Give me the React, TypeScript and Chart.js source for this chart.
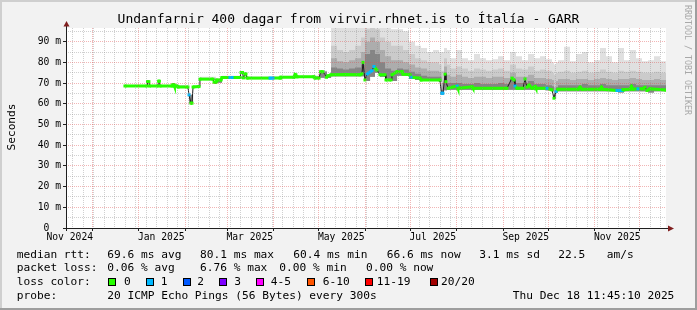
import React, { useEffect, useRef } from 'react';
import { Chart, registerables } from 'chart.js';

Chart.register(...registerables);

const W = 697;
const H = 310;

// ---- time axis (days since graph start) ----
const START_UTC = Date.UTC(2024, 10, 13, 11, 45, 10);
const DAY = 86400000;
const X_MIN = 0;
const X_MAX = 400;
const Y_MIN = 0;
const Y_MAX = 96.6;

const titleText = 'Undanfarnir 400 dagar from virvir.rhnet.is to Ítalía - GARR';
const yAxisTitle = 'Seconds';
const watermark = 'RRDTOOL / TOBI OETIKER';

const xLabelTexts = ['Nov 2024', 'Jan 2025', 'Mar 2025', 'May 2025', 'Jul 2025', 'Sep 2025', 'Nov 2025'];
const xLabelYears = [2024, 2025, 2025, 2025, 2025, 2025, 2025];
const xLabelMonths = [10, 0, 2, 4, 6, 8, 10];
const yTickValues = [0, 5, 10, 15, 20, 25, 30, 35, 40, 45, 50, 55, 60, 65, 70, 75, 80, 85, 90, 95];

// ---- median rtt (ms) ----
const medianDays = [
  39.3, 54.0, 54.3, 55.3, 55.7, 61.3, 61.7, 62.3, 62.7, 70.7,
  71.3, 72.0, 72.3, 74.0, 74.7, 81.3, 82.0, 83.3, 84.0, 84.7,
  88.7, 89.3, 98.0, 98.7, 100.0, 100.7, 103.3, 104.0, 109.3, 110.7,
  116.0, 116.7, 117.7, 118.3, 119.3, 120.0, 120.7, 136.0, 138.0, 142.7,
  143.3, 152.0, 152.7, 153.3, 154.0, 165.3, 166.0, 168.7, 169.7, 171.3,
  173.7, 174.7, 176.7, 186.0, 196.0, 197.3, 198.0, 199.3, 200.7, 204.0,
  205.3, 207.3, 209.3, 212.7, 213.3, 216.7, 217.3, 220.7, 224.0, 224.7,
  229.3, 230.0, 236.0, 236.7, 249.3, 250.3, 251.3, 252.7, 253.3, 254.7,
  260.7, 261.3, 270.7, 271.3, 294.0, 297.3, 298.7, 299.3, 300.7, 304.7,
  306.0, 307.3, 308.7, 310.7, 312.7, 313.3, 320.7, 324.0, 325.3, 326.7,
  328.0, 341.3, 342.7, 344.0, 356.0, 357.0, 358.0, 367.3, 370.7, 371.3,
  376.0, 377.0, 378.0, 381.3, 384.7, 386.0, 387.3, 389.3, 400.0,
];
const medianMs = [
  68.6, 68.6, 70.7, 70.7, 68.6, 68.6, 70.9, 70.9, 68.6, 68.6,
  69.2, 69.2, 68.6, 68.6, 68.1, 68.1, 64.3, 60.3, 60.3, 68.1,
  68.3, 71.9, 71.9, 70.4, 70.4, 71.5, 71.5, 72.7, 72.7, 72.7,
  72.7, 75.1, 75.1, 72.5, 74.4, 74.4, 72.4, 72.4, 72.4, 72.4,
  72.8, 72.8, 74.0, 74.0, 73.0, 73.0, 72.4, 72.4, 75.5, 75.5,
  72.8, 73.5, 74.0, 74.2, 74.0, 74.5, 80.0, 71.5, 74.4, 76.0,
  78.0, 76.3, 74.0, 74.0, 71.5, 71.5, 74.0, 75.5, 75.5, 74.3,
  74.0, 72.8, 72.4, 71.5, 71.5, 65.1, 65.1, 74.3, 70.7, 67.5,
  68.6, 67.5, 68.2, 67.5, 67.5, 72.4, 71.5, 68.6, 67.5, 67.5,
  72.0, 68.0, 69.0, 67.5, 68.3, 67.5, 67.5, 66.7, 62.7, 65.9,
  67.0, 67.0, 68.0, 67.0, 67.0, 68.0, 67.0, 66.4, 66.4, 66.8,
  67.0, 68.3, 67.0, 67.2, 67.2, 68.0, 66.4, 67.2, 66.6,
];
// lost pings out of 20 at each median point
const medianLoss = [
  0, 0, 0, 0, 0, 0, 0, 0, 0, 0,
  0, 0, 0, 0, 0, 0, 1, 0, 0, 0,
  0, 0, 0, 0, 0, 0, 0, 0, 1, 1,
  0, 0, 0, 0, 0, 0, 0, 1, 1, 0,
  0, 0, 0, 0, 0, 0, 0, 0, 0, 0,
  0, 0, 0, 0, 0, 0, 0, 0, 1, 1,
  1, 0, 0, 0, 0, 0, 0, 0, 0, 0,
  0, 1, 0, 0, 0, 1, 1, 0, 0, 0,
  1, 0, 0, 0, 0, 0, 0, 1, 0, 0,
  0, 0, 0, 0, 0, 0, 1, 0, 0, 1,
  0, 0, 0, 0, 0, 0, 0, 1, 1, 0,
  0, 0, 0, 1, 0, 0, 0, 0, 0,
];

// ---- smoke (ping spread, ms) ----
const smokeDays = [
  39.3, 79.3, 82.0, 84.7, 89.3, 100.0, 104.0, 121.3, 142.7, 156.0,
  169.3, 174.0, 176.7, 180.7, 184.7, 188.7, 192.7, 196.7, 199.3, 202.7,
  206.0, 209.3, 212.7, 216.7, 220.7, 224.7, 228.7, 232.7, 236.7, 240.7,
  244.7, 248.7, 250.3, 252.0, 254.0, 256, 260, 264, 268, 272,
  276, 280, 284, 288, 292, 296, 300, 304, 308, 312,
  316, 320, 324, 325.3, 326.7, 328, 332, 336, 340, 344,
  348, 352, 356, 360, 364, 368, 372, 376, 380, 384,
  388, 392, 396, 400,
];
const smokeMax = [
  69.0, 68.8, 64.5, 69.0, 73.0, 72.0, 73.5, 73.2, 73.5, 73.7,
  76.0, 74.0, 98, 98, 98, 98, 98, 98, 98, 98,
  98, 98, 97, 96, 96, 95, 90, 88, 87, 85,
  86, 85, 85, 87, 86, 82, 86, 82, 81, 84,
  82, 81, 81.5, 83, 81, 85, 83, 81, 84, 82,
  83, 81.5, 80, 79, 80, 81, 87.5, 80.5, 84, 85,
  80, 81, 87, 83, 80, 87, 81, 86, 82, 80.5,
  81, 83, 80.5, 80,
];
const smokeQ1 = [
  68.8, 68.5, 64.4, 68.6, 72.5, 71.5, 73.2, 72.8, 73.2, 73.4,
  75.8, 73.8, 88, 86, 85, 86, 88, 92, 96, 97,
  96, 92, 90, 88, 88, 86, 84, 82, 81, 80,
  80, 79, 76, 82, 79, 77, 78, 77, 76, 77,
  76.5, 76, 76.5, 77, 76, 79, 77, 76.5, 78, 76,
  76.5, 76, 75, 74, 75, 75.5, 76, 75, 75.5, 76,
  75, 75.5, 76.5, 75.5, 75, 76, 75.5, 76, 75.5, 75,
  75, 75.5, 75, 75,
];
const smokeQ2 = [
  68.7, 68.3, 64.3, 68.4, 72.2, 71.2, 73.0, 72.6, 73.0, 73.2,
  75.6, 73.6, 82, 80.5, 80, 81, 82, 85, 90, 92,
  90, 86, 83, 81, 81, 80, 79, 77.5, 77, 76,
  76, 75.5, 70, 78, 74, 73, 74, 73, 72.5, 73,
  73, 72.5, 73, 73, 72.5, 75, 73, 73, 74, 72.5,
  72.5, 72, 71.5, 68, 71, 72, 72, 71.5, 72, 72,
  71.5, 72, 72.5, 72, 71.5, 72, 72, 72.5, 72, 71.5,
  71.5, 72, 71.5, 71.5,
];
const smokeQ3 = [
  68.6, 68.2, 64.2, 68.2, 72.0, 71.0, 72.8, 72.5, 72.9, 73.1,
  75.5, 73.5, 77.5, 77, 76.5, 77, 77.5, 79, 84, 86,
  84, 80, 77, 76, 77, 76.5, 75.5, 74.5, 73.5, 73,
  73, 73, 66.5, 75, 70, 70, 70, 69.5, 69.5, 70,
  69.5, 69.5, 69.5, 70, 69.5, 72, 70, 70, 71, 69.5,
  69.5, 69, 68.5, 65, 68, 69, 69, 69, 69, 69.5,
  69, 69, 69.5, 69, 69, 69, 69, 69.5, 69, 69,
  69, 69, 69, 69,
];
const smokeMin = [
  68.2, 67.8, 60.3, 67.8, 71.5, 70.2, 72.3, 72.1, 72.4, 72.6,
  72.6, 72.5, 73.3, 73.3, 73.3, 73.3, 73.3, 73.3, 71.0, 73.0,
  75.0, 73.0, 71.0, 71.0, 73.5, 73.5, 72.0, 71.5, 71.0, 71.0,
  71.0, 70.5, 64.5, 66.5, 66.8, 66.8, 66.8, 66.8, 66.8, 66.8,
  66.8, 66.8, 66.8, 66.8, 66.8, 66.8, 66.8, 66.8, 66.8, 66.8,
  66.8, 66.5, 66.0, 62.3, 65.5, 66.0, 66.0, 66.0, 66.0, 66.0,
  66.0, 66.0, 66.0, 66.0, 66.0, 65.5, 66.0, 66.0, 66.0, 66.0,
  65.5, 66.0, 66.0, 66.0,
];

// ---- legend texts ----
const lossColors = ['#26ff00', '#00b8ff', '#0059ff', '#7e00ff', '#ff00ff', '#ff5500', '#ff0000', '#a10000'];
const lossLabels = ['0', '1', '2', '3', '4-5', '6-10', '11-19', '20/20'];
const lossUpper = [0, 1, 2, 3, 5, 10, 19, 20];
const rttRow = ['median rtt:', '69.6 ms avg', '80.1 ms max', '60.4 ms min', '66.6 ms now', '3.1 ms sd', '22.5', 'am/s'];
const lossRow = ['packet loss:', '0.06 % avg', '6.76 % max', '0.00 % min', '0.00 % now'];
const colorRowTitle = 'loss color:';
const probeRow = ['probe:', '20 ICMP Echo Pings (56 Bytes) every 300s', 'Thu Dec 18 11:45:10 2025'];

const smokeColors = ['#e0e0e0', '#cbcbcb', '#adadad', '#858585'];

function lossColor(n: number): string {
  for (let i = 0; i < lossUpper.length; i++) if (n <= lossUpper[i]) return lossColors[i];
  return lossColors[lossColors.length - 1];
}

const MONO = '"DejaVu Sans Mono", monospace';
const MAJOR_GRID = 'rgba(222,79,79,0.42)';
const MINOR_GRID = 'rgba(143,143,143,0.42)';

export default function App() {
  const ref = useRef<HTMLCanvasElement | null>(null);

  useEffect(() => {
    document.body.style.margin = '0';
    const canvas = ref.current;
    if (!canvas) return;

    // tick kinds for the time axis
    const kinds = new Map<number, string>();
    for (let t = Date.UTC(2024, 10, 18); (t - START_UTC) / DAY <= X_MAX; t += 7 * DAY) {
      kinds.set((t - START_UTC) / DAY, 'minor');
    }
    {
      let y = 2024;
      let m = 11;
      for (;;) {
        const d = (Date.UTC(y, m, 1) - START_UTC) / DAY;
        if (d > X_MAX) break;
        kinds.set(d, 'major');
        m++;
        if (m > 11) { m = 0; y++; }
      }
    }
    const labelByValue = new Map<number, string>();
    xLabelTexts.forEach((txt, i) => {
      const d = (Date.UTC(xLabelYears[i], xLabelMonths[i], 1) + 15 * DAY - START_UTC) / DAY;
      kinds.set(d, 'label');
      labelByValue.set(d, txt);
    });
    const xTickValues = [...kinds.keys()].filter((v) => v >= X_MIN && v <= X_MAX).sort((a, b) => a - b);

    const pts = (xs: number[], ys: number[]) => xs.map((x, i) => ({ x, y: ys[i] }));

    const steep = (c: any) => {
      const dx = Math.abs(c.p1.x - c.p0.x);
      const dy = Math.abs(c.p1.y - c.p0.y);
      return dy > 3 && dy > 1.5 * dx;
    };

    const smokeDs = (vals: number[], color: string) => ({
      data: pts(smokeDays, vals),
      borderWidth: 0,
      borderColor: 'rgba(0,0,0,0)',
      backgroundColor: color,
      pointRadius: 0,
      stepped: true,
      fill: 5,
      clip: 0,
    });

    const decor = {
      id: 'decor',
      beforeDraw(chart: any) {
        const { ctx, chartArea: a } = chart;
        ctx.save();
        ctx.fillStyle = '#f2f2f2';
        ctx.fillRect(0, 0, W, H);
        ctx.fillStyle = '#cfcfcf';
        ctx.fillRect(0, 0, W, 2);
        ctx.fillRect(0, 0, 2, H);
        ctx.fillStyle = '#9e9e9e';
        ctx.fillRect(0, H - 2, W, 2);
        ctx.fillRect(W - 2, 0, 2, H);
        ctx.fillStyle = '#ffffff';
        ctx.fillRect(a.left, a.top, a.right - a.left, a.bottom - a.top);
        ctx.restore();
      },
      afterDraw(chart: any) {
        const { ctx, chartArea: a } = chart;
        ctx.save();
        // axes
        ctx.strokeStyle = '#1f1f1f';
        ctx.lineWidth = 1;
        ctx.beginPath();
        ctx.moveTo(63, a.bottom + 0.5);
        ctx.lineTo(670, a.bottom + 0.5);
        ctx.moveTo(a.left + 0.5, a.bottom + 3);
        ctx.lineTo(a.left + 0.5, 24);
        ctx.stroke();
        // arrows
        ctx.fillStyle = '#801f1f';
        ctx.beginPath();
        ctx.moveTo(674, a.bottom + 0.5);
        ctx.lineTo(668, a.bottom - 2.5);
        ctx.lineTo(668, a.bottom + 3.5);
        ctx.closePath();
        ctx.fill();
        ctx.beginPath();
        ctx.moveTo(a.left + 0.5, 21);
        ctx.lineTo(a.left - 2.5, 26.5);
        ctx.lineTo(a.left + 3.5, 26.5);
        ctx.closePath();
        ctx.fill();

        // title
        ctx.fillStyle = '#000';
        ctx.font = `13px ${MONO}`;
        ctx.textAlign = 'center';
        ctx.textBaseline = 'alphabetic';
        ctx.fillText(titleText, W / 2, 22.7);

        // y axis title
        ctx.save();
        ctx.font = `11.2px ${MONO}`;
        ctx.translate(14.5, 127);
        ctx.rotate(-Math.PI / 2);
        ctx.fillText(yAxisTitle, 0, 0);
        ctx.restore();

        // watermark
        ctx.save();
        ctx.fillStyle = '#a8a8a8';
        ctx.font = `8.3px ${MONO}`;
        ctx.translate(684.5, 60);
        ctx.rotate(Math.PI / 2);
        ctx.fillText(watermark, 0, 0);
        ctx.restore();

        // legend
        ctx.font = `11.2px ${MONO}`;
        ctx.textAlign = 'left';
        const rttX = [16.7, 107.3, 200, 293.3, 386.7, 479.3, 558.3, 606.7];
        rttRow.forEach((t, i) => ctx.fillText(t, rttX[i], 257.8));
        const lossX = [16.7, 107.3, 200, 279.3, 366];
        lossRow.forEach((t, i) => ctx.fillText(t, lossX[i], 271.2));
        ctx.fillText(colorRowTitle, 16.7, 284.9);
        const boxX = [108, 146, 183, 219, 256, 307, 365, 430];
        const boxLabelX = [124, 160.7, 197.3, 234.3, 270.7, 322.7, 376.7, 441];
        lossLabels.forEach((t, i) => {
          ctx.fillStyle = lossColors[i];
          ctx.fillRect(boxX[i], 278, 8, 8);
          ctx.strokeStyle = '#000';
          ctx.lineWidth = 1;
          ctx.strokeRect(boxX[i] + 0.5, 278.5, 7, 7);
          ctx.fillStyle = '#000';
          ctx.fillText(t, boxLabelX[i], 284.9);
        });
        const probeX = [16.7, 107.3, 512.7];
        probeRow.forEach((t, i) => ctx.fillText(t, probeX[i], 298.5));
        ctx.restore();
      },
    };

    const chart = new Chart(canvas, {
      type: 'line',
      data: {
        datasets: [
          {
            data: pts(medianDays, medianMs),
            borderColor: lossColors[0],
            borderWidth: 3,
            tension: 0,
            fill: false,
            pointRadius: 2.1,
            pointStyle: 'rect',
            pointBorderWidth: 0,
            pointBackgroundColor: (c: any) => lossColor(medianLoss[c.dataIndex] ?? 0),
            clip: 0,
            segment: {
              borderColor: (c: any) => {
                if (steep(c)) return '#1c1c1c';
                const l0 = medianLoss[c.p0DataIndex];
                const l1 = medianLoss[c.p1DataIndex];
                return l0 === l1 ? lossColor(l0) : lossColors[0];
              },
              borderWidth: (c: any) => (steep(c) ? 1 : 3),
            },
          } as any,
          smokeDs(smokeQ3, smokeColors[3]),
          smokeDs(smokeQ2, smokeColors[2]),
          smokeDs(smokeQ1, smokeColors[1]),
          smokeDs(smokeMax, smokeColors[0]),
          {
            data: pts(smokeDays, smokeMin),
            borderWidth: 0,
            borderColor: 'rgba(0,0,0,0)',
            pointRadius: 0,
            stepped: true,
            fill: false,
            clip: 0,
          } as any,
        ],
      },
      options: {
        responsive: false,
        animation: false,
        devicePixelRatio: 1,
        events: [],
        layout: { padding: { top: 28, right: 31, bottom: 0, left: 0 } },
        plugins: {
          legend: { display: false },
          title: { display: false },
          tooltip: { enabled: false },
        },
        scales: {
          x: {
            type: 'linear',
            min: X_MIN,
            max: X_MAX,
            afterBuildTicks: (s: any) => {
              s.ticks = xTickValues.map((v) => ({ value: v }));
            },
            afterFit: (s: any) => {
              s.height = 82;
            },
            border: { display: false, dash: [1, 1] },
            grid: {
              z: 1,
              lineWidth: 1,
              drawTicks: true,
              tickLength: 3,
              color: (c: any) => {
                const k = kinds.get(c.tick?.value);
                if (k === 'major') return MAJOR_GRID;
                if (k === 'minor') return MINOR_GRID;
                return 'rgba(0,0,0,0)';
              },
              tickColor: (c: any) => (kinds.get(c.tick?.value) === 'major' ? '#1f1f1f' : 'rgba(0,0,0,0)'),
            },
            ticks: {
              autoSkip: false,
              maxRotation: 0,
              minRotation: 0,
              padding: 1,
              color: '#000',
              font: { family: MONO, size: 9.7 },
              callback: (v: any) => labelByValue.get(v) ?? '',
            },
          },
          y: {
            type: 'linear',
            min: Y_MIN,
            max: Y_MAX,
            afterBuildTicks: (s: any) => {
              s.ticks = yTickValues.map((v) => ({ value: v }));
            },
            afterFit: (s: any) => {
              s.width = 66;
            },
            border: { display: false, dash: [1, 1] },
            grid: {
              z: 1,
              lineWidth: 1,
              drawTicks: true,
              tickLength: 3,
              color: (c: any) => (c.tick?.value % 10 === 0 ? MAJOR_GRID : MINOR_GRID),
              tickColor: (c: any) => (c.tick?.value % 10 === 0 ? '#1f1f1f' : 'rgba(0,0,0,0)'),
            },
            ticks: {
              autoSkip: false,
              padding: 2,
              color: '#000',
              font: { family: MONO, size: 9.7 },
              callback: (v: any) => (v % 10 === 0 ? (v === 0 ? '0  ' : `${v} m`) : ''),
            },
          },
        },
      } as any,
      plugins: [decor],
    });

    return () => chart.destroy();
  }, []);

  return (
    <div style={{ width: W, height: H }}>
      <canvas ref={ref} width={W} height={H} style={{ display: 'block', width: W, height: H }} />
    </div>
  );
}
